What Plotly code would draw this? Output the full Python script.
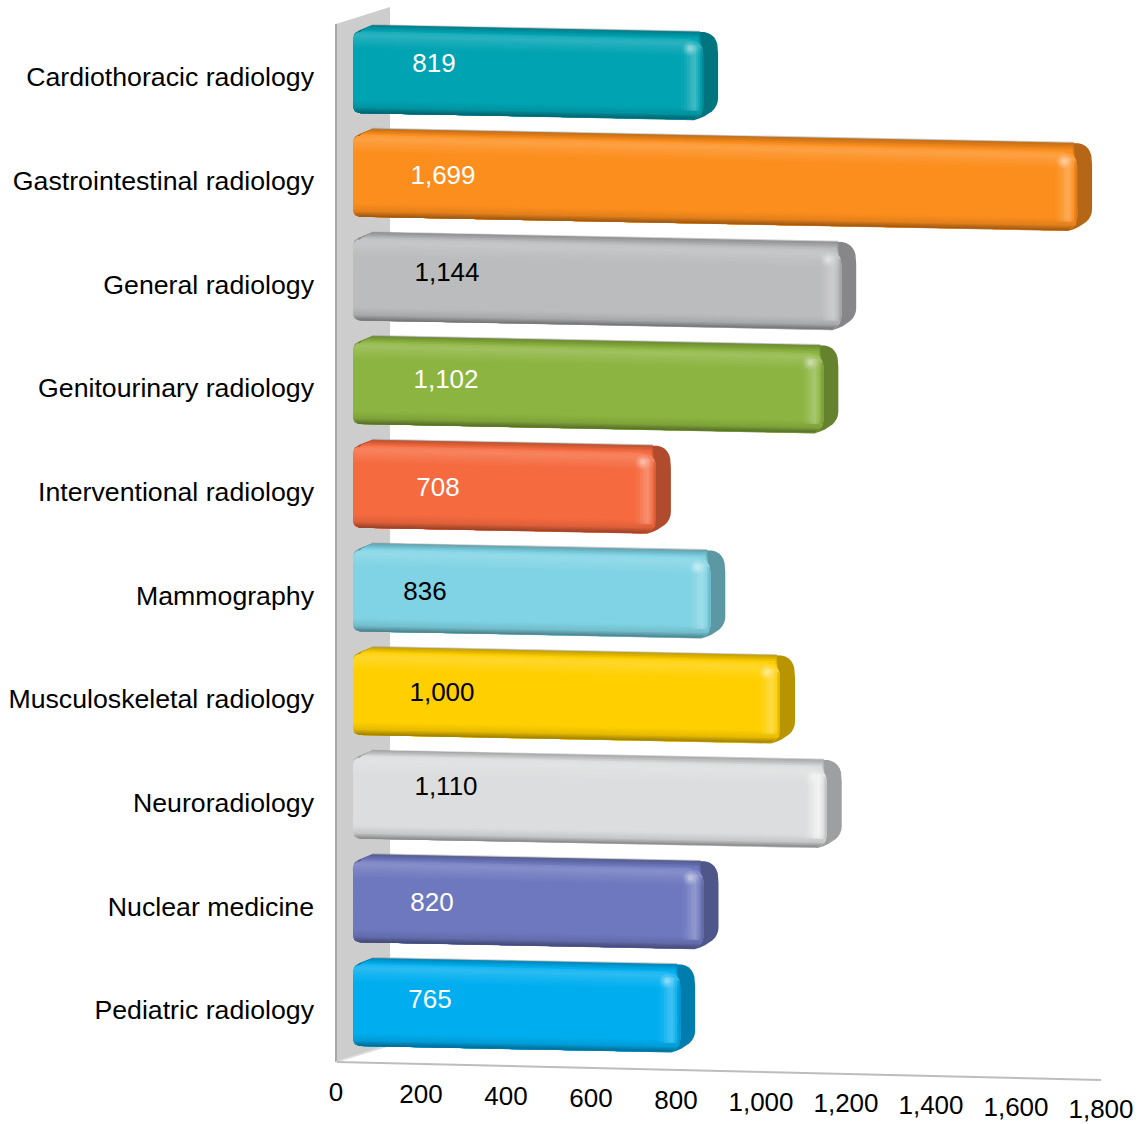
import math
import plotly.graph_objects as go

# ---- data ----
categories = ["Cardiothoracic radiology", "Gastrointestinal radiology", "General radiology",
              "Genitourinary radiology", "Interventional radiology", "Mammography",
              "Musculoskeletal radiology", "Neuroradiology", "Nuclear medicine", "Pediatric radiology"]
values = [819, 1699, 1144, 1102, 708, 836, 1000, 1110, 820, 765]
x_ticks = [0, 200, 400, 600, 800, 1000, 1200, 1400, 1600, 1800]

# ---- styles ----
base_colors = [(0, 163, 178), (252, 142, 30), (187, 188, 190), (140, 180, 64), (245, 106, 63),
               (127, 211, 228), (255, 207, 0), (220, 221, 222), (110, 120, 190), (0, 174, 239)]
label_colors = ["white", "white", "black", "white", "white", "black", "black", "black", "white", "white"]
label_px = [434, 443, 447, 446, 438, 425, 442, 446, 432, 430]
label_py = [65, 177, 274, 381, 489, 593, 694, 788, 904, 1001]
FONT = "Liberation Sans, Arial, sans-serif"
FS = 26

W, H = 1138, 1124
K = 0.425          # px per value unit
X0 = 370           # px of value 0 at the outer (right) bevel
ROW = 103.65       # px per category
Y0 = 77            # px of the first category centre
LEFT = 320


def dx(px):
    return (px - X0) / K


def dy(py):
    return (py - Y0) / ROW


def rgb(c, a=None):
    c = tuple(int(round(max(0, min(255, v)))) for v in c)
    if a is None:
        return f"rgb({c[0]},{c[1]},{c[2]})"
    return f"rgba({c[0]},{c[1]},{c[2]},{a})"


def mul(c, f):
    return tuple(v * f for v in c)


def mix(c, d, t):
    return tuple(a + (b - a) * t for a, b in zip(c, d))


fig = go.Figure()


def poly(pts, color):
    xs = [dx(p[0]) for p in pts] + [dx(pts[0][0])]
    ys = [dy(p[1]) for p in pts] + [dy(pts[0][1])]
    fig.add_trace(go.Scatter(x=xs, y=ys, mode="lines", fill="toself", fillcolor=color,
                             line=dict(width=0, color=color), hoverinfo="skip", showlegend=False))


def path(pts, color, lw):
    fig.add_trace(go.Scatter(x=[dx(p[0]) for p in pts], y=[dy(p[1]) for p in pts], mode="lines",
                             line=dict(width=lw, color=color), hoverinfo="skip", showlegend=False))


def qbez(p0, p1, p2, n=8):
    return [((1 - t) ** 2 * p0[0] + 2 * t * (1 - t) * p1[0] + t * t * p2[0],
             (1 - t) ** 2 * p0[1] + 2 * t * (1 - t) * p1[1] + t * t * p2[1])
            for t in [j / n for j in range(n + 1)]]


# side wall and floor edge
poly([(336, 24), (390, 7), (390, 1046), (336, 1062)], "#cdcdcd")
path([(336, 24), (336, 1062)], "#a9a9a9", 2)
path([(336, 1062), (386, 1046)], "#dedede", 1.5)
path([(337, 1062), (1101, 1080)], "#bdbdbd", 2)

for i, (v, c) in enumerate(zip(values, base_colors)):
    s = i * ROW
    R = X0 + K * v        # outer right edge, from the value
    B = R - 15            # front-face / side boundary
    L = 353

    def yt(px):
        return 31 + s + 0.024 * (px - L)

    def yb(px):
        return 113 + s + 0.0195 * (px - L)

    def ytb(px):
        return 25 + s + 0.02 * (px - 370)

    side = mul(c, 0.72)
    white = (255, 255, 255)

    # silhouette (shows as the side face)
    sil = qbez((L, yt(L) + 9), (L, yt(L) + 1), (L + 7, yt(L) - 1), 5)
    sil += [(372, ytb(372))]
    sil += qbez((R - 18, ytb(R - 18)), (R + 1, ytb(R)), (R, ytb(R) + 22))
    sil += qbez((R, yb(R) - 22), (R, yb(R) - 7), (R - 24, yb(R - 24) + 0.5))
    sil += [(L + 6, yb(L + 6))]
    sil += qbez((L + 6, yb(L + 6)), (L, yb(L)), (L, yb(L) - 8), 5)
    poly(sil, rgb(side))

    # top face: painted back to front, from the back edge to the front edge
    topramp = [(0.0, mul(c, 0.80)), (0.25, mul(c, 0.86)), (0.5, mul(c, 0.93)), (0.75, c),
               (1.0, mix(c, white, 0.10))]
    for u, col in topramp[:-1]:
        lx = 372 + (L + 6 - 372) * u
        rx = (R - 18) + (B - 6 - (R - 18)) * u
        pts = [(lx, ytb(lx) + (yt(lx) - ytb(lx)) * u), (rx, ytb(rx) + (yt(rx) - ytb(rx)) * u),
               (B - 2, yt(B) + 8), (L + 2, yt(L) + 9)]
        poly(pts, rgb(col))
    path([(372, ytb(372) - 0.3), (R - 18, ytb(R - 18) - 0.3)], "rgba(150,150,150,0.5)", 1.2)

    # front face: sloped shading bands painted top to bottom
    stops = [(0.0, mix(c, white, 0.10)), (0.05, mix(c, white, 0.17)), (0.12, mix(c, white, 0.09)),
             (0.22, c), (0.84, c), (0.93, mul(c, 0.90)), (1.0, mul(c, 0.60))]

    def shade(t):
        for (a, ca), (b, cb) in zip(stops, stops[1:]):
            if t <= b:
                return mix(ca, cb, (t - a) / (b - a))
        return stops[-1][1]

    ts = [0, .015, .03, .045, .06, .08, .10, .12, .14, .16, .18, .20, .22, .84, .86, .88, .90, .92, .94, .955, .97, .985]

    def inset(t, xp, rad):
        d = min(t, 1 - t) * (yb(xp) - yt(xp))
        if d >= rad:
            return 0.0
        return rad - math.sqrt(max(rad ** 2 - (rad - d) ** 2, 0))

    def pt(t, xp):
        return (xp, yt(xp) + t * (yb(xp) - yt(xp)))

    for j, t0 in enumerate(ts):
        t1 = ts[j + 1] if j + 1 < len(ts) else 1.0
        tc = (t0 + t1) / 2
        samples = [t0 + (1 - t0) * q / 12 for q in range(13)]
        left = [pt(t, L + inset(t, L, 8)) for t in samples]
        right = [pt(t, B - inset(t, B, 13)) for t in samples]
        poly(left + right[::-1], rgb(shade(tc)))

    # soft vertical highlight near the right end of the front face
    strength = 0.62 if sum(c) > 600 else 0.24
    cols = [(-22, -19, .12), (-19, -16, .3), (-16, -13, .55), (-13, -10, .85), (-10, -7, 1),
            (-7, -5, .65), (-5, -3, .3), (-3, -1, .08)]
    for a, b, al in cols:
        xa, xb = B + a, B + b
        poly([(xa, yt(xa) + 6), (xb, yt(xb) + 6), (xb, yb(xb) - 9), (xa, yb(xa) - 9)],
             rgb(white, round(al * strength, 3)))

    # soften the join between the front face and the side face
    for a, b, al in [(-3, -1.5, .2), (-1.5, 0, .45), (0, 1.5, .3)]:
        xa, xb = B + a, B + b
        poly([(xa, yt(xa) + 9), (xb, yt(xb) + 9), (xb, yb(xb) - 9), (xa, yb(xa) - 9)],
             rgb(side, al))

    # corner sparkle
    hx, hy = B - 13, yt(B - 13) + 9.5
    spark = mix(c, white, 0.55)
    fig.add_trace(go.Scatter(x=[dx(hx)] * 3, y=[dy(hy)] * 3, mode="markers",
                             marker=dict(size=[14, 9, 5], color=rgb(spark), opacity=[0.25, 0.4, 0.85], line_width=0),
                             hoverinfo="skip", showlegend=False))

# data labels
fig.add_trace(go.Scatter(x=[dx(p) for p in label_px], y=[dy(p) for p in label_py], mode="text",
                         text=[f"{v:,}" for v in values], textposition="middle center",
                         textfont=dict(family=FONT, size=FS, color=label_colors),
                         hoverinfo="skip", showlegend=False))

# sloped value axis labels
tx = [t - 34 / K for t in x_ticks]
ty = [dy(1094.5 + 0.0225 * 84.8 * j) for j in range(len(x_ticks))]
fig.add_trace(go.Scatter(x=tx, y=ty, mode="text", text=[f"{t:,}" for t in x_ticks],
                         textposition="middle center", cliponaxis=False,
                         textfont=dict(family=FONT, size=FS, color="black"),
                         hoverinfo="skip", showlegend=False))

fig.update_layout(
    width=W, height=H, paper_bgcolor="white", plot_bgcolor="white", showlegend=False,
    margin=dict(l=LEFT, r=0, t=0, b=0),
    xaxis=dict(range=[dx(LEFT), dx(W)], visible=False, fixedrange=True),
    yaxis=dict(range=[dy(H), dy(0)], tickmode="array", tickvals=list(range(len(categories))),
               ticktext=categories, showgrid=False, zeroline=False, showline=False, ticks="",
               ticklen=0, ticklabelstandoff=5, tickfont=dict(family=FONT, size=26.7, color="black"),
               automargin=False, fixedrange=True),
)
fig.write_html("out.html", config={"displayModeBar": False},
               post_script="document.body.style.margin='0';document.body.style.overflow='hidden';")
